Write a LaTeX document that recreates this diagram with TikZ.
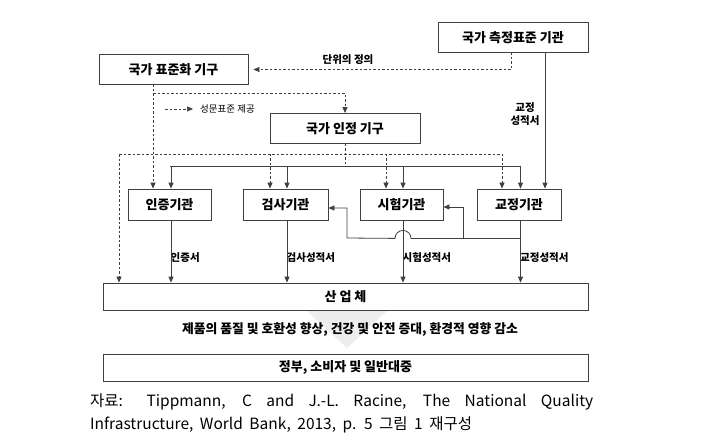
\documentclass[tikz,border=0pt]{standalone}
\usepackage{fontspec}
\setmainfont{Noto Sans CJK KR}
\usetikzlibrary{calc,arrows.meta}
\newcommand\srcsp{\spaceskip=6.5pt plus 8pt\relax}
\tikzset{
  box/.style={draw=black!75, line width=0.8pt, minimum height=30pt, inner sep=0pt, font=\fontsize{13}{13}\selectfont\bfseries},
  wide/.style={box, minimum width=485pt, minimum height=27pt},
  lab/.style={inner sep=1pt, font=\fontsize{10.5}{13}\selectfont\bfseries},
  sline/.style={draw=black!75, line width=0.8pt},
  dline/.style={draw=black!75, line width=0.7pt, dash pattern=on 2.5pt off 2pt},
  tip/.style={-{Triangle[length=6pt,width=5pt]}},
  srcfont/.style={anchor=west, inner sep=0pt, font=\fontsize{15.5}{18}\selectfont},
}

\begin{document}
\begin{tikzpicture}[x=1pt,y=-1pt]
		%%%%% START %%%%%
		\useasboundingbox (0,0) rectangle (705,445);
		\fill[white] (0,0) rectangle (705,445);
		
		\node[box, minimum width=150pt] (msr) at (513,37.5) {국가 측정표준 기관};
		\node[box, minimum width=149pt] (std) at (173.5,69.5) {국가 표준화 기구};
		\node[box, minimum width=150pt] (acc) at (345,128.5) {국가 인정 기구};
		
		\node[box, minimum width=83pt, minimum height=31pt] (cert) at (169.5,204.5) {인증기관};
		\node[box, minimum width=85pt, minimum height=31pt] (insp) at (285.5,204.5) {검사기관};
		\node[box, minimum width=83pt, minimum height=31pt] (test) at (401.5,204.5) {시험기관};
		\node[box, minimum width=84pt, minimum height=31pt] (cal) at (519,204.5) {교정기관};
		
		\node[wide] (ind) at (345.5,296.5) {산 업 체};
		\fill[black!7] (307,311) -- (387,311) -- (347,348) -- cycle;
		\node[font=\fontsize{12.8}{12}\selectfont\bfseries] (gain) at (350,330) {제품의 품질 및 호환성 향상, 건강 및 안전 증대, 환경적 영향 감소};
		\node[wide] (pub) at (345.5,367.5) {정부, 소비자 및 일반대중};
		
		% 단위의 정의
		\coordinate (m1) at (511,52);
		\draw[dline,tip] (m1) |- ($(std.east)+(5,0)$);
		\node[lab] (unit) at (348,60) {단위의 정의};
		
		% 교정 성적서
		\coordinate (m2) at (545,52);
		\draw[sline,tip] (m2) -- (m2 |- cal.north);
		\node[lab, align=center] (calrep) at (525,114) {교정\\성적서};
		
		% 성문표준 제공
		\coordinate (s1) at (153,84);
		\coordinate (s2) at (153,93);
		\draw[dline,tip] (s1) -- (s1 |- cert.north);
		\draw[dline,tip] (s2) -| (acc.north);
		\coordinate (key) at (165,109);
		\draw[dline,tip] (key) -- ++(28,0);
		\node[lab, anchor=west, font=\fontsize{9.5}{12}\selectfont] (keytxt) at (199,109) {성문표준 제공};
		
		\coordinate (dbus) at (119,154);
		\draw[dline] (dbus) -- (502,154);
		\draw[dline,tip] (dbus) -- (dbus |- ind.north);
		\draw[dline,tip] ($(insp.north)+(-15.5,-35)$) -- ($(insp.north)+(-15.5,0)$);
		\draw[dline,tip] ($(test.north)+(-15.5,-35)$) -- ($(test.north)+(-15.5,0)$);
		\draw[dline,tip] ($(cal.north)+(-17,-35)$) -- ($(cal.north)+(-17,0)$);
		
		\coordinate (sbus) at (acc.south |- 0,166);
		\draw[dline] (acc.south) -- (sbus);
		\draw[sline] (170,166) -- (520,166);
		\foreach \n in {cert,insp,test,cal}
		  \draw[sline,tip] ($(\n.north)+(1.5,-23)$) -- ($(\n.north)+(1.5,0)$);
		
		\path (cert.south) -- (cert.south |- ind.north) node[lab, pos=0.6, right] (r1) {인증서};
		\path (insp.south) -- (insp.south |- ind.north) node[lab, pos=0.6, right] (r2) {검사성적서};
		\path (test.south) -- (test.south |- ind.north) node[lab, pos=0.6, right] (r3) {시험성적서};
		\path (cal.south) -- (cal.south |- ind.north) node[lab, pos=0.6, right] (r4) {교정성적서};
		\foreach \n in {cert,insp,test,cal}
		  \draw[sline,tip] ($(\n.south)+(1.5,0)$) -- ($(\n.south |- ind.north)+(1.5,0)$);
		
		% 교정기관 -> 시험, 검사
		\coordinate (fb) at ($(cal.south)+(1.5,18)$);
		\draw[sline,tip] (fb) -- ($(test.south |- fb)+(9.5,0)$) arc[start angle=0, end angle=180, radius=8pt]
		  -- (347,238) -- (347,208) -- ($(insp.east)+(0,3.5)$);
		\draw[sline,tip] (463,238) -- (463,207) -- ($(test.east)+(0,2.5)$);
		
		\node[srcfont] (src1) at (90,402)
		  {\srcsp\makebox[503pt][s]{자료: Tippmann, C and J.-L. Racine, The National Quality}};
		\node[srcfont] (src2) at (90,425)
		  {\srcsp Infrastructure, World Bank, 2013, p. 5 그림 1 재구성};
		%%%%% END %%%%%
	\end{tikzpicture}
\end{document}
